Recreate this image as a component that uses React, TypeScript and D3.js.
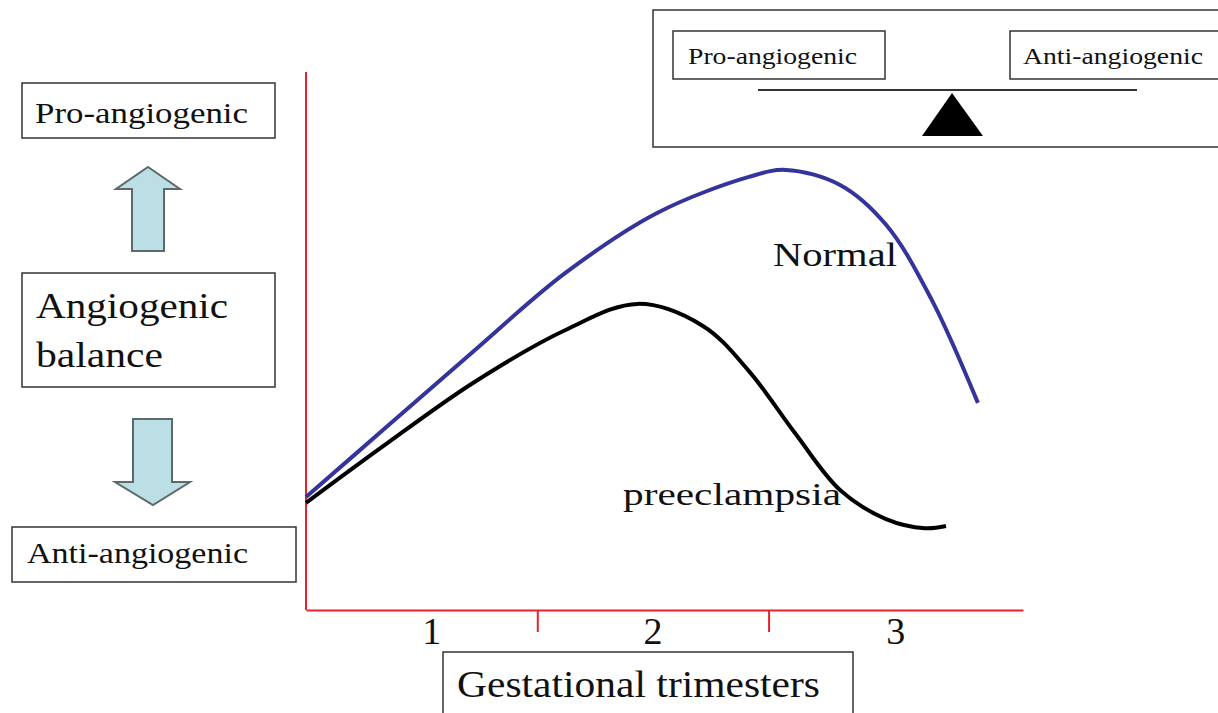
import React, { useEffect, useRef } from 'react'
import * as d3 from 'd3'

// trimester axis
const trimesters = ['1', '2', '3']
const trimesterBounds = [0, 1, 2, 3.1]

// Normal pregnancy curve (x = trimester, y = angiogenic balance 0..100)
const normalX = [0, 0.329, 0.722, 1.12, 1.518, 1.915, 2.075, 2.309, 2.508, 2.706, 2.905]
const normalY = [21.0, 33.3, 48.0, 62.6, 73.8, 80.5, 81.8, 79.0, 71.6, 57.6, 38.5]

// preeclampsia curve
const preX = [0, 0.329, 0.722, 1.12, 1.435, 1.716, 1.915, 2.114, 2.309, 2.508, 2.676, 2.767]
const preY = [19.9, 30.3, 42.2, 52.0, 56.9, 52.8, 44.4, 32.9, 22.3, 16.9, 15.2, 15.6]

const FONT = "'Liberation Serif', 'Times New Roman', serif"
const RED = '#e8202c'

const Label = ({ x, y, size, len, children }: any) => (
  <text x={x} y={y} fontSize={size} textLength={len} lengthAdjust="spacingAndGlyphs"
    style={{ fontFamily: FONT }} fill="#111">{children}</text>
)

const App = () => {
  const axisRef = useRef<SVGGElement>(null)

  const x = d3.scaleLinear().domain([0, 3.1]).range([306, 1023])
  const y = d3.scaleLinear().domain([0, 100]).range([610, 72])

  const line = d3.line<[number, number]>()
    .x(d => x(d[0]))
    .y(d => y(d[1]))
    .curve(d3.curveCatmullRom.alpha(0.5))

  const normal = normalX.map((v, i) => [v, normalY[i]] as [number, number])
  const pre = preX.map((v, i) => [v, preY[i]] as [number, number])

  useEffect(() => {
    const g = d3.select(axisRef.current)
    g.selectAll('*').remove()
    const xAxis = d3.axisBottom(x)
      .tickValues([1, 2])
      .tickSize(22)
      .tickSizeOuter(0)
      .tickFormat(() => '')
    g.call(xAxis)
    g.selectAll('path, line').attr('stroke', RED).attr('stroke-width', 2)
  }, [])

  return (
    <svg width={1218} height={713} style={{ position: 'absolute', left: 0, top: 0, background: '#fff' }}>
      {/* y axis */}
      <line x1={x(0)} x2={x(0)} y1={y(100)} y2={y(0)} stroke={RED} strokeWidth={2} />
      <g ref={axisRef} transform={`translate(0,${y(0)})`} />

      {trimesters.map((t, i) => (
        <text key={t} x={(x(trimesterBounds[i]) + x(trimesterBounds[i + 1])) / 2 + (i === 0 ? 10 : 0)}
          y={644} fontSize={38} textAnchor="middle" style={{ fontFamily: FONT }} fill="#111">{t}</text>
      ))}

      {/* curves */}
      <path d={line(normal) || ''} fill="none" stroke="#35349a" strokeWidth={4} />
      <path d={line(pre) || ''} fill="none" stroke="#000" strokeWidth={4} />
      <Label x={773} y={266} size={33} len={124}>Normal</Label>
      <Label x={623} y={505} size={32} len={218}>preeclampsia</Label>

      {/* x title */}
      <rect x={443} y={652} width={410} height={70} fill="#fff" stroke="#333" strokeWidth={1.5} />
      <Label x={457} y={697} size={37} len={363}>Gestational trimesters</Label>

      {/* left panel */}
      <rect x={22} y={83} width={253} height={55} fill="#fff" stroke="#333" strokeWidth={1.5} />
      <Label x={35} y={123} size={29} len={213}>Pro-angiogenic</Label>
      <path d="M148,167 L180,189 L164,189 L164,251 L132,251 L132,189 L116,189 Z"
        fill="#bcdfe5" stroke="#5b6b6b" strokeWidth={2} />
      <rect x={22} y={273} width={253} height={114} fill="#fff" stroke="#333" strokeWidth={1.5} />
      <Label x={36} y={318} size={35} len={192}>Angiogenic</Label>
      <Label x={36} y={367} size={35} len={127}>balance</Label>
      <path d="M133,419 L172,419 L172,482 L190,482 L153,505 L115,482 L133,482 Z"
        fill="#bcdfe5" stroke="#5b6b6b" strokeWidth={2} />
      <rect x={12} y={527} width={284} height={55} fill="#fff" stroke="#333" strokeWidth={1.5} />
      <Label x={27} y={563} size={29} len={221}>Anti-angiogenic</Label>

      {/* balance inset */}
      <rect x={653} y={10} width={600} height={137} fill="none" stroke="#333" strokeWidth={1.5} />
      <rect x={673} y={31} width={212} height={48} fill="#fff" stroke="#333" strokeWidth={1.5} />
      <Label x={688} y={64} size={23} len={169}>Pro-angiogenic</Label>
      <rect x={1010} y={31} width={240} height={48} fill="#fff" stroke="#333" strokeWidth={1.5} />
      <Label x={1023} y={64} size={23} len={180}>Anti-angiogenic</Label>
      <line x1={758} x2={1137} y1={90} y2={90} stroke="#333" strokeWidth={2} />
      <path d="M952,93 L983,136 L922,136 Z" fill="#000" />
    </svg>
  )
}

export default App
